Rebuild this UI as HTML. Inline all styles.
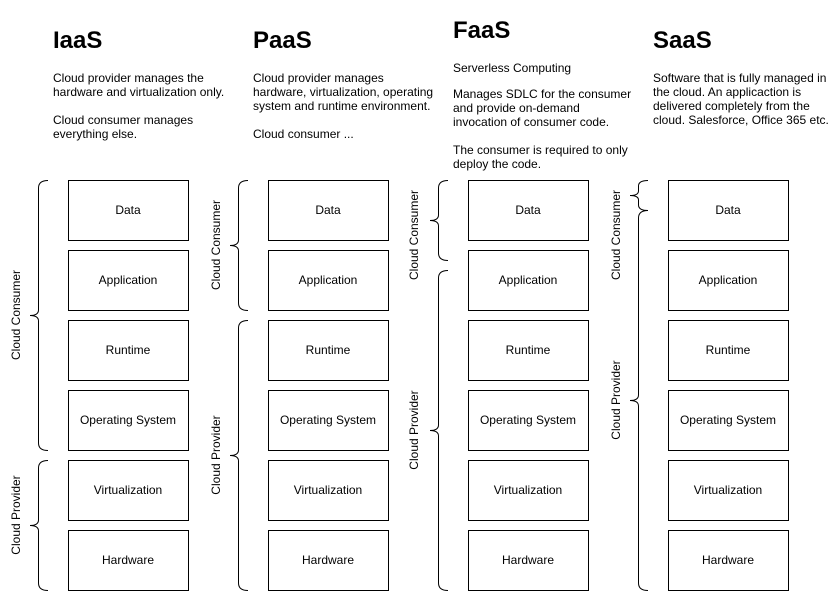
<!DOCTYPE html>
<html><head><meta charset="utf-8"><style>
html,body{margin:0;padding:0;background:#fff;}
svg{display:block;font-family:"Liberation Sans",Arial,sans-serif;}
</style></head><body>
<svg width="839" height="591" viewBox="0 0 839 591" xmlns="http://www.w3.org/2000/svg">
<g font-weight="bold" font-size="24" fill="#000">
<text x="53" y="48">IaaS</text>
<text x="253" y="48">PaaS</text>
<text x="453" y="38">FaaS</text>
<text x="653" y="48">SaaS</text>
</g>
<g font-size="12" fill="#000">
<text x="53" y="82">Cloud provider manages the</text>
<text x="53" y="96">hardware and virtualization only.</text>
<text x="53" y="124">Cloud consumer manages</text>
<text x="53" y="138">everything else.</text>
<text x="253" y="82">Cloud provider manages</text>
<text x="253" y="96">hardware, virtualization, operating</text>
<text x="253" y="110">system and runtime environment.</text>
<text x="253" y="138">Cloud consumer ...</text>
<text x="453" y="72">Serverless Computing</text>
<text x="453" y="98">Manages SDLC for the consumer</text>
<text x="453" y="112">and provide on-demand</text>
<text x="453" y="126">invocation of consumer code.</text>
<text x="453" y="154">The consumer is required to only</text>
<text x="453" y="168">deploy the code.</text>
<text x="653" y="82">Software that is fully managed in</text>
<text x="653" y="96">the cloud. An applicaction is</text>
<text x="653" y="110">delivered completely from the</text>
<text x="653" y="124">cloud. Salesforce, Office 365 etc.</text>
</g>
<g fill="#fff" stroke="#000" stroke-width="1">
<rect x="68.5" y="180.5" width="120" height="60"/><rect x="68.5" y="250.5" width="120" height="60"/><rect x="68.5" y="320.5" width="120" height="60"/><rect x="68.5" y="390.5" width="120" height="60"/><rect x="68.5" y="460.5" width="120" height="60"/><rect x="68.5" y="530.5" width="120" height="60"/>
<rect x="268.5" y="180.5" width="120" height="60"/><rect x="268.5" y="250.5" width="120" height="60"/><rect x="268.5" y="320.5" width="120" height="60"/><rect x="268.5" y="390.5" width="120" height="60"/><rect x="268.5" y="460.5" width="120" height="60"/><rect x="268.5" y="530.5" width="120" height="60"/>
<rect x="468.5" y="180.5" width="120" height="60"/><rect x="468.5" y="250.5" width="120" height="60"/><rect x="468.5" y="320.5" width="120" height="60"/><rect x="468.5" y="390.5" width="120" height="60"/><rect x="468.5" y="460.5" width="120" height="60"/><rect x="468.5" y="530.5" width="120" height="60"/>
<rect x="668.5" y="180.5" width="120" height="60"/><rect x="668.5" y="250.5" width="120" height="60"/><rect x="668.5" y="320.5" width="120" height="60"/><rect x="668.5" y="390.5" width="120" height="60"/><rect x="668.5" y="460.5" width="120" height="60"/><rect x="668.5" y="530.5" width="120" height="60"/>
</g>
<g font-size="12" fill="#000" text-anchor="middle">
<text x="128" y="214">Data</text><text x="128" y="284">Application</text><text x="128" y="354">Runtime</text><text x="128" y="424">Operating System</text><text x="128" y="494">Virtualization</text><text x="128" y="564">Hardware</text>
<text x="328" y="214">Data</text><text x="328" y="284">Application</text><text x="328" y="354">Runtime</text><text x="328" y="424">Operating System</text><text x="328" y="494">Virtualization</text><text x="328" y="564">Hardware</text>
<text x="528" y="214">Data</text><text x="528" y="284">Application</text><text x="528" y="354">Runtime</text><text x="528" y="424">Operating System</text><text x="528" y="494">Virtualization</text><text x="528" y="564">Hardware</text>
<text x="728" y="214">Data</text><text x="728" y="284">Application</text><text x="728" y="354">Runtime</text><text x="728" y="424">Operating System</text><text x="728" y="494">Virtualization</text><text x="728" y="564">Hardware</text>
</g>
<g fill="none" stroke="#000" stroke-width="1">
<path d="M48,180.5 Q38.5,180.5 38.5,188 L38.5,310 Q38.5,315.5 30,315.5 Q38.5,315.5 38.5,321 L38.5,443 Q38.5,450.5 48,450.5"/>
<path d="M48,460.5 Q38.5,460.5 38.5,468 L38.5,520 Q38.5,525.5 30,525.5 Q38.5,525.5 38.5,531 L38.5,583 Q38.5,590.5 48,590.5"/>
<path d="M248,180.5 Q238.5,180.5 238.5,188 L238.5,240 Q238.5,245.5 230,245.5 Q238.5,245.5 238.5,251 L238.5,303 Q238.5,310.5 248,310.5"/>
<path d="M248,320.5 Q238.5,320.5 238.5,328 L238.5,450 Q238.5,455.5 230,455.5 Q238.5,455.5 238.5,461 L238.5,583 Q238.5,590.5 248,590.5"/>
<path d="M448,180.5 Q438.5,180.5 438.5,188 L438.5,215 Q438.5,220.5 430,220.5 Q438.5,220.5 438.5,226 L438.5,253 Q438.5,260.5 448,260.5"/>
<path d="M448,270.5 Q438.5,270.5 438.5,278 L438.5,425 Q438.5,430.5 430,430.5 Q438.5,430.5 438.5,436 L438.5,583 Q438.5,590.5 448,590.5"/>
<path d="M648,180.5 Q638.5,180.5 638.5,186 L638.5,191 Q638.5,195.5 630,195.5 Q638.5,195.5 638.5,200 L638.5,205 Q638.5,210.5 648,210.5"/>
<path d="M648,210.5 Q638.5,210.5 638.5,218 L638.5,395 Q638.5,400.5 630,400.5 Q638.5,400.5 638.5,406 L638.5,583 Q638.5,590.5 648,590.5"/>
</g>
<g font-size="12" fill="#000" text-anchor="middle">
<text transform="translate(20,315) rotate(-90)">Cloud Consumer</text>
<text transform="translate(20,515) rotate(-90)">Cloud Provider</text>
<text transform="translate(220,245) rotate(-90)">Cloud Consumer</text>
<text transform="translate(220,455) rotate(-90)">Cloud Provider</text>
<text transform="translate(418,235) rotate(-90)">Cloud Consumer</text>
<text transform="translate(418,430) rotate(-90)">Cloud Provider</text>
<text transform="translate(620,235) rotate(-90)">Cloud Consumer</text>
<text transform="translate(620,400) rotate(-90)">Cloud Provider</text>
</g>
</svg>
</body></html>
